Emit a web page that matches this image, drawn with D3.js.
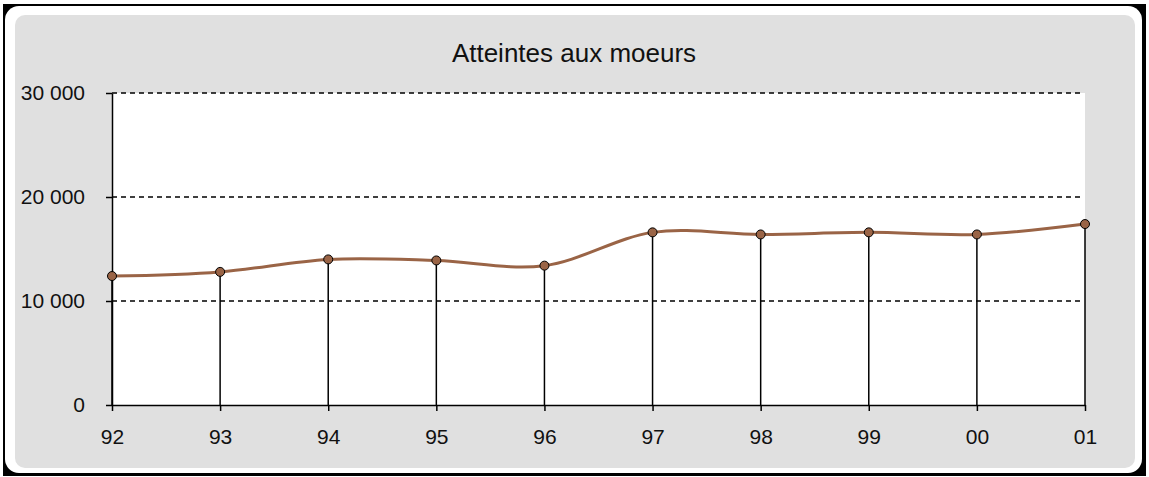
<!DOCTYPE html>
<html>
<head>
<meta charset="utf-8">
<script src="https://cdn.jsdelivr.net/npm/d3@7"></script>
<style>
  html, body { margin: 0; padding: 0; background: #ffffff; }
  svg { display: block; }
  text { font-family: "Liberation Sans", Arial, sans-serif; fill: #111; }
</style>
</head>
<body>
<div id="chart"></div>
<script>
const title = "Atteintes aux moeurs";
const years = ["92", "93", "94", "95", "96", "97", "98", "99", "00", "01"];
const values = [12400, 12800, 14000, 13900, 13400, 16600, 16400, 16600, 16400, 17400];
const yTicks = [0, 10000, 20000, 30000];
const yTickLabels = ["0", "10 000", "20 000", "30 000"];

const W = 1149, H = 477;
const plot = { left: 112, right: 1085, top: 93, bottom: 405 };
const lineColor = "#9a6446";

const svg = d3.select("#chart").append("svg").attr("width", W).attr("height", H);

// Frame
svg.append("rect").attr("x", 3).attr("y", 4).attr("width", 1143).attr("height", 472).attr("fill", "#000");
svg.append("rect").attr("x", 5).attr("y", 6).attr("width", 1137).attr("height", 467).attr("rx", 14).attr("fill", "#fff");
svg.append("rect").attr("x", 15).attr("y", 15).attr("width", 1120).attr("height", 453).attr("rx", 10).attr("fill", "#e0e0e0");

// Plot area
svg.append("rect").attr("x", plot.left).attr("y", plot.top)
  .attr("width", plot.right - plot.left).attr("height", plot.bottom - plot.top).attr("fill", "#fff");

const x = d3.scalePoint().domain(years).range([plot.left, plot.right]);
const y = d3.scaleLinear().domain([0, 30000]).range([plot.bottom, plot.top]);

// Gridlines
svg.append("g").selectAll("line").data(yTicks.filter(d => d > 0)).join("line")
  .attr("x1", plot.left).attr("x2", plot.right - 2)
  .attr("y1", d => y(d)).attr("y2", d => y(d))
  .attr("stroke", "#000").attr("stroke-width", 1.5).attr("stroke-dasharray", "5,4");

// Drop lines
svg.append("g").selectAll("line").data(years).join("line")
  .attr("x1", d => x(d)).attr("x2", d => x(d))
  .attr("y1", (d, i) => y(values[i])).attr("y2", plot.bottom)
  .attr("stroke", "#000").attr("stroke-width", 1.5);

// Axes
const yAxis = d3.axisLeft(y).tickValues(yTicks).tickFormat((d, i) => yTickLabels[i])
  .tickSize(6).tickSizeOuter(0).tickPadding(21);
const gy = svg.append("g").attr("transform", `translate(${plot.left},0)`).call(yAxis);
const xAxis = d3.axisBottom(x).tickSize(6).tickSizeOuter(0).tickPadding(18);
const gx = svg.append("g").attr("transform", `translate(0,${plot.bottom})`).call(xAxis);
[gy, gx].forEach(g => {
  g.select(".domain").attr("stroke", "#000").attr("stroke-width", 1.5);
  g.selectAll(".tick line").attr("stroke", "#000").attr("stroke-width", 1.5);
  g.selectAll("text").attr("font-size", 21).attr("fill", "#111")
    .attr("font-family", "'Liberation Sans', Arial, sans-serif");
});

// Line
const line = d3.line().x((d, i) => x(years[i])).y(d => y(d)).curve(d3.curveCatmullRom.alpha(0));
svg.append("path").datum(values).attr("d", line)
  .attr("fill", "none").attr("stroke", lineColor).attr("stroke-width", 3);

// Markers
svg.append("g").selectAll("circle").data(values).join("circle")
  .attr("cx", (d, i) => x(years[i])).attr("cy", d => y(d)).attr("r", 4.5)
  .attr("fill", lineColor).attr("stroke", "#000").attr("stroke-width", 1);

// Title
svg.append("text").attr("x", 574).attr("y", 62).attr("text-anchor", "middle")
  .attr("font-size", 26).text(title);
</script>
</body>
</html>
